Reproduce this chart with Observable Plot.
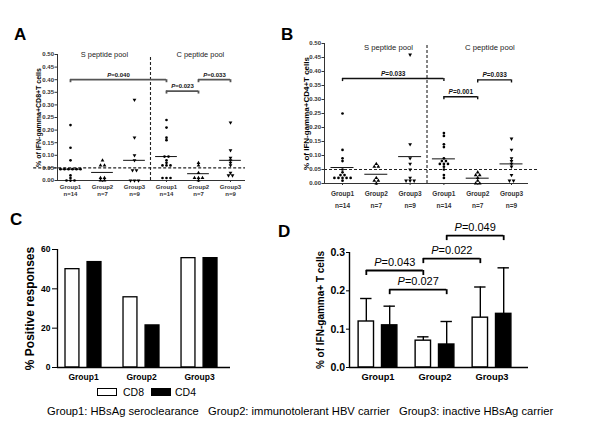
<!DOCTYPE html>
<html><head><meta charset="utf-8">
<script src="https://cdn.jsdelivr.net/npm/d3@7"></script>
<script src="https://cdn.jsdelivr.net/npm/@observablehq/plot@0.6"></script>
<style>
body{margin:0;background:#fff;font-family:"Liberation Sans",Arial,sans-serif;}
#root{position:relative;width:600px;height:431px;overflow:hidden;background:#fff}
.letter{position:absolute;font-weight:bold;font-size:17px;line-height:1}
.leg{position:absolute;box-sizing:border-box;border:1.3px solid #000}
.legt{position:absolute;font-size:10.5px;line-height:12px}
#cap{position:absolute;left:47px;top:405px;font-size:11.2px;line-height:13px;white-space:pre}
</style></head><body><div id="root"></div>
<script>
// ---------- data ----------
const groups = ["Group1", "Group2", "Group3"];
const groupN = ["n=14", "n=7", "n=9"];
const pools = ["S peptide pool", "C peptide pool"];
const series = ["CD8", "CD4"];

// Panel A: % IFN-gamma+ CD8+ T cells (S pool G1..G3, C pool G1..G3)
const cd8S1 = [0.22, 0.13, 0.08, 0.045, 0.045, 0.045, 0.045, 0.045, 0.045, 0.02, 0.01, 0, 0, 0];
const cd8S2 = [0.08, 0.06, 0.06, 0.01, 0.01, 0, 0];
const cd8S3 = [0.32, 0.17, 0.10, 0.08, 0.04, 0.04, 0, 0, 0];
const cd8C1 = [0.24, 0.21, 0.17, 0.16, 0.095, 0.095, 0.08, 0.07, 0.06, 0.06, 0.06, 0.01, 0.01, 0.01];
const cd8C2 = [0.07, 0.06, 0.03, 0.01, 0.01, 0.01, 0];
const cd8C3 = [0.23, 0.12, 0.09, 0.08, 0.07, 0.06, 0.03, 0.02, 0.02];
const cd8Means = [0.045, 0.032, 0.08, 0.095, 0.027, 0.08];
const cd8Cmp = [
  {from: 0, to: 3, y: 0.40, p: "P=0.040"},
  {from: 3, to: 4, y: 0.355, p: "P=0.023"},
  {from: 4, to: 5, y: 0.40, p: "P=0.033"}
];

// Panel B: % IFN-gamma+ CD4+ T cells
const cd4S1 = [0.25, 0.12, 0.09, 0.08, 0.05, 0.04, 0.03, 0.03, 0.02, 0.02, 0.02, 0.02, 0.02, 0.01];
const cd4S2 = [0.07, 0.06, 0.06, 0.02, 0.01, 0.01, 0];
const cd4S3 = [0.46, 0.14, 0.09, 0.07, 0.05, 0.02, 0.01, 0.01, 0.01];
const cd4C1 = [0.18, 0.17, 0.14, 0.13, 0.09, 0.08, 0.08, 0.07, 0.07, 0.07, 0.06, 0.05, 0.03, 0.02];
const cd4C2 = [0.04, 0.03, 0.03, 0.02, 0.01, 0, 0];
const cd4C3 = [0.16, 0.12, 0.09, 0.08, 0.07, 0.06, 0.03, 0.01, 0.01];
const cd4Means = [0.057, 0.033, 0.096, 0.088, 0.019, 0.07];
const cd4Cmp = [
  {from: 0, to: 3, y: 0.375, p: "P=0.033"},
  {from: 3, to: 4, y: 0.31, p: "P=0.001"},
  {from: 4, to: 5, y: 0.37, p: "P=0.033"}
];

// Panel C: % positive responses
const posCD8 = [50, 35.7, 55.6];
const posCD4 = [53.6, 21.4, 55.6];

// Panel D: mean (+SD) % IFN-gamma+ T cells
const meanCD8 = [0.12, 0.07, 0.13];
const sdCD8 = [0.06, 0.01, 0.08];
const meanCD4 = [0.11, 0.06, 0.14];
const sdCD4 = [0.05, 0.06, 0.12];
const dCmp = [
  {from: 0, to: 1, s: "CD8", y: 0.253, p: "P=0.043"},
  {from: 0, to: 1, s: "CD4", y: 0.203, p: "P=0.027"},
  {from: 1, to: 2, s: "CD8", y: 0.284, p: "P=0.022"},
  {from: 1, to: 2, s: "CD4", y: 0.344, p: "P=0.049"}
];

const caption = "Group1: HBsAg seroclearance   Group2: immunotolerant HBV carrier   Group3: inactive HBsAg carrier";

// ---------- helpers ----------
const root = document.getElementById("root");
const FONT = "Liberation Sans, Arial, sans-serif";
const sqrt3 = Math.sqrt(3);
const triDown = {draw(ctx, size) {
  const y = -Math.sqrt(size / (sqrt3 * 3));
  ctx.moveTo(0, -y * 2); ctx.lineTo(-sqrt3 * y, y); ctx.lineTo(sqrt3 * y, y); ctx.closePath();
}};

function jitter(values, gi, step) {
  const s = values.slice().sort((a, b) => b - a);
  const out = [];
  let i = 0;
  while (i < s.length) {
    let j = i;
    while (j + 1 < s.length && Math.abs(s[j + 1] - s[i]) < 0.006) j++;
    const k = j - i + 1;
    for (let m = 0; m < k; m++) out.push({g: gi, v: s[i + m], x: gi + (m - (k - 1) / 2) * step});
    i = j + 1;
  }
  return out;
}

function place(svg) {
  svg.style.position = "absolute";
  svg.style.left = "0px";
  svg.style.top = "0px";
  svg.style.background = "transparent";
  svg.style.overflow = "visible";
  svg.style.fontFamily = FONT;
  for (const t of svg.querySelectorAll("text")) {
    const s = t.textContent;
    if (/^P=/.test(s) && t.children.length === 0) {
      t.textContent = "";
      const ts = document.createElementNS("http://www.w3.org/2000/svg", "tspan");
      ts.setAttribute("font-style", "italic");
      ts.textContent = "P";
      t.appendChild(ts);
      t.appendChild(document.createTextNode(s.slice(1)));
    }
  }
  root.appendChild(svg);
}

function scatter(cfg) {
  const pts = cfg.data.flatMap((arr, gi) => jitter(arr, gi, cfg.step));
  const idx = d3.range(6);
  const [x0, x1] = cfg.domainX;
  const ends = cfg.cmp.flatMap(c => [{x: c.from, y: c.y}, {x: c.to, y: c.y}]);
  return Plot.plot({
    width: 600, height: 431,
    marginLeft: cfg.m[0], marginRight: cfg.m[1], marginTop: cfg.m[2], marginBottom: cfg.m[3],
    x: {type: "linear", domain: [x0, x1]},
    y: {type: "linear", domain: [0, 0.5]},
    marks: [
      Plot.ruleY([0.05], {x1: cfg.hDash[0], x2: cfg.hDash[1], stroke: "#222", strokeWidth: 1.1, strokeDasharray: "3,2"}),
      Plot.ruleX([2.5], {y1: 0, y2: cfg.vTop, stroke: "#222", strokeWidth: 1.1, strokeDasharray: "3,2"}),
      Plot.ruleX([x0], {stroke: cfg.axisColor, strokeWidth: 1}),
      Plot.ruleY([0], {stroke: cfg.axisColor, strokeWidth: 1}),
      Plot.axisY({ticks: d3.range(0, 0.501, 0.05), tickFormat: d3.format(".2f"), tickSize: 2.5, tickPadding: 1,
        fontSize: cfg.tickFs, fontWeight: "bold", label: null, color: cfg.axisColor}),
      Plot.axisX({ticks: idx, tickSize: 2, tickPadding: cfg.grpPad, tickFormat: d => groups[d % 3] + "\n" + groupN[d % 3],
        fontSize: cfg.grpFs, lineHeight: cfg.grpLH, fontWeight: "bold", label: null, color: cfg.axisColor}),
      Plot.text([cfg.label], {frameAnchor: "left", textAnchor: "middle", rotate: -90, dx: cfg.labelDx, fontSize: cfg.labelFs, fontWeight: "bold"}),
      Plot.text(pools, {x: (d, i) => i * 3 + 1 + cfg.poolShift, y: cfg.poolY, fontSize: cfg.poolFs, fill: "#222"}),
      Plot.ruleY(cfg.means, {x1: (d, i) => i - 0.34, x2: (d, i) => i + 0.34, y: d => d, stroke: "#111", strokeWidth: 1}),
      Plot.dot(pts.filter(d => d.g % 3 === 0), {x: "x", y: "v", r: 1.35, fill: "#000", stroke: null, symbol: "circle"}),
      Plot.dot(pts.filter(d => d.g % 3 === 1), {x: "x", y: "v", r: 1.4, fill: "#000", stroke: null, symbol: "triangle"}),
      Plot.dot(pts.filter(d => d.g % 3 === 2), {x: "x", y: "v", r: 1.4, fill: "#000", stroke: null, symbol: triDown}),
      Plot.ruleY(cfg.cmp, {x1: "from", x2: "to", y: "y", stroke: cfg.brk, strokeWidth: cfg.brkW}),
      Plot.ruleX(ends, {x: "x", y1: "y", y2: d => d.y - cfg.brkTick, stroke: cfg.brk, strokeWidth: cfg.brkW}),
      Plot.text(cfg.cmp, {x: d => (d.from + d.to) / 2, y: "y", dy: cfg.pDy, text: "p", fontSize: cfg.pFs, fontWeight: "bold", fill: "#111"})
    ]
  });
}

// ---------- Panel A ----------
place(scatter({
  data: [cd8S1, cd8S2, cd8S3, cd8C1, cd8C2, cd8C3], means: cd8Means, cmp: cd8Cmp, step: 0.125,
  m: [57, 355, 54, 251], domainX: [-0.406, 5.469], hDash: [-1.15, 5.469], vTop: 0.49,
  label: "% of IFN-gamma+CD8+T cells", labelDx: -19, labelFs: 7,
  tickFs: 6, grpFs: 6, grpLH: 1.2, grpPad: 1, poolShift: 0.06, poolY: 0.5, poolFs: 7.4,
  brk: "#555", brkW: 1.8, brkTick: 0.012, pDy: -5, pFs: 6, axisColor: "#333"
}));

// ---------- Panel B ----------
place(scatter({
  data: [cd4S1, cd4S2, cd4S3, cd4C1, cd4C2, cd4C3], means: cd4Means, cmp: cd4Cmp, step: 0.12,
  m: [324, 72, 43, 248], domainX: [-0.533, 5.503], hDash: [-0.533, 5.8], vTop: 0.5,
  label: "% of IFN-gamma+CD4+T cells", labelDx: -18, labelFs: 8,
  tickFs: 6, grpFs: 6.5, grpLH: 1.85, grpPad: 2, poolShift: 0.36, poolY: 0.486, poolFs: 7.7,
  brk: "#111", brkW: 1.4, brkTick: 0.011, pDy: -5, pFs: 6.5, axisColor: "#333"
}));

// ---------- Panel C ----------
const barsC = groups.flatMap((g, i) => [
  {g: i, s: "CD8", v: posCD8[i]},
  {g: i, s: "CD4", v: posCD4[i]}
]);
place(Plot.plot({
  width: 600, height: 431, marginLeft: 57, marginRight: 370, marginTop: 249, marginBottom: 64,
  x: {type: "linear", domain: [-0.448, 2.534]},
  y: {type: "linear", domain: [0, 60]},
  marks: [
    Plot.rectY(barsC, {x1: d => d.g + (d.s === "CD8" ? -0.31 : 0.07), x2: d => d.g + (d.s === "CD8" ? -0.07 : 0.31),
      y1: 0, y2: "v", fill: d => d.s === "CD8" ? "#fff" : "#000", stroke: "#000", strokeWidth: 1.3}),
    Plot.ruleX([-0.448], {strokeWidth: 1.3}),
    Plot.ruleY([0], {strokeWidth: 1.3}),
    Plot.axisY({ticks: [0, 20, 40, 60], tickSize: 5, tickPadding: 2, fontSize: 8.5, fontWeight: "bold", label: null}),
    Plot.axisX({ticks: [0, 1, 2], tickSize: 0, tickPadding: 6, tickFormat: i => groups[i], fontSize: 8.5, fontWeight: "bold", label: null}),
    Plot.text(["% Positive responses"], {frameAnchor: "left", textAnchor: "middle", rotate: -90, dx: -27, fontSize: 12, fontWeight: "bold"})
  ]
}));

// ---------- Panel D ----------
const barsD = groups.flatMap((g, i) => [
  {g: i, s: "CD8", v: meanCD8[i], e: sdCD8[i]},
  {g: i, s: "CD4", v: meanCD4[i], e: sdCD4[i]}
]);
const cD = d => d.g + (d.s === "CD8" ? -0.205 : 0.205);
const dEnds = dCmp.flatMap(c => [{g: c.from, s: c.s, y: c.y}, {g: c.to, s: c.s, y: c.y}]);
place(Plot.plot({
  width: 600, height: 431, marginLeft: 349, marginRight: 72, marginTop: 252, marginBottom: 64,
  x: {type: "linear", domain: [-0.5, 2.64]},
  y: {type: "linear", domain: [0, 0.3]},
  marks: [
    Plot.ruleX(barsD, {x: cD, y1: "v", y2: d => d.v + d.e, strokeWidth: 1.4}),
    Plot.ruleY(barsD, {x1: d => cD(d) - 0.1, x2: d => cD(d) + 0.1, y: d => d.v + d.e, strokeWidth: 1.4}),
    Plot.rectY(barsD, {x1: d => cD(d) - 0.135, x2: d => cD(d) + 0.135, y1: 0, y2: "v",
      fill: d => d.s === "CD8" ? "#fff" : "#000", stroke: "#000", strokeWidth: 1.4}),
    Plot.ruleX([-0.5], {strokeWidth: 1.4}),
    Plot.ruleY([0], {strokeWidth: 1.4}),
    Plot.axisY({ticks: [0, 0.1, 0.2, 0.3], tickFormat: d3.format(".1f"), tickSize: 3, tickPadding: 1.5, fontSize: 10.5, fontWeight: "bold", label: null}),
    Plot.axisX({ticks: [0, 1, 2], tickSize: 0, tickPadding: 6, tickFormat: i => groups[i], fontSize: 9.3, fontWeight: "bold", label: null}),
    Plot.text(["% of IFN-gamma+ T cells"], {frameAnchor: "left", textAnchor: "middle", rotate: -90, dx: -29, fontSize: 10, fontWeight: "bold"}),
    Plot.ruleY(dCmp, {x1: d => cD({g: d.from, s: d.s}), x2: d => cD({g: d.to, s: d.s}), y: "y", strokeWidth: 1.8}),
    Plot.ruleX(dEnds, {x: cD, y1: "y", y2: d => d.y - 0.013, strokeWidth: 1.8}),
    Plot.text(dCmp, {x: d => (cD({g: d.from, s: d.s}) + cD({g: d.to, s: d.s})) / 2, y: "y", dy: -8, text: "p", fontSize: 11})
  ]
}));

// ---------- letters, legend, caption ----------
[["A", 14, 26], ["B", 281, 26], ["C", 10, 211], ["D", 278, 223]].forEach(([t, l, tp]) => {
  const d = document.createElement("div");
  d.className = "letter"; d.textContent = t;
  d.style.left = l + "px"; d.style.top = tp + "px";
  root.appendChild(d);
});
series.forEach((s, i) => {
  const box = document.createElement("div");
  box.className = "leg";
  box.style.left = (97 + i * 54) + "px"; box.style.top = "388px";
  box.style.width = "20px"; box.style.height = "8px";
  box.style.background = s === "CD8" ? "#fff" : "#000";
  root.appendChild(box);
  const t = document.createElement("div");
  t.className = "legt"; t.textContent = s;
  t.style.left = (123 + i * 52) + "px"; t.style.top = "386px";
  root.appendChild(t);
});
const cap = document.createElement("div");
cap.id = "cap"; cap.textContent = caption;
root.appendChild(cap);
</script>
</body></html>
